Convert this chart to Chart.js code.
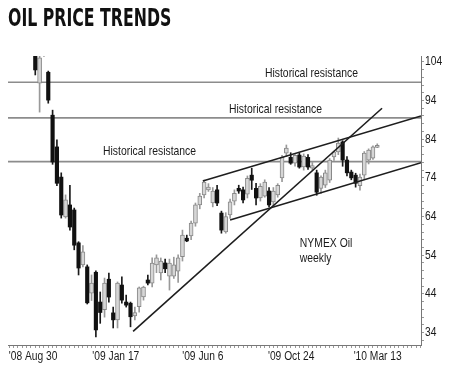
<!DOCTYPE html>
<html lang="en">
<head>
<meta charset="UTF-8" />
<title>Oil price trends</title>
<script src="https://cdn.jsdelivr.net/npm/chart.js"></script>
<style>
  html, body { margin: 0; padding: 0; background: #fff; }
  #wrap { width: 450px; height: 368px; }
</style>
</head>
<body>
<div id="wrap"><canvas id="oil-chart"></canvas></div>
<script>
// weekly NYMEX candles, index 0 = first week shown
const opens  = [107.0, 98.5, 106.2, 101.3, 90.2, 82.0, 74.2, 63.9, 67.0, 65.7,
                57.2, 51.5, 51.0, 44.2, 49.6, 41.9, 39.9, 47.8, 39.1, 37.3,
                46.3, 41.9, 41.6, 38.3, 40.7, 43.2, 47.6, 46.8, 51.5, 49.4,
                52.0, 48.6, 48.6, 49.9, 53.6, 58.4, 59.0, 62.3, 67.0, 69.6,
                70.9, 67.5, 70.9, 64.9, 60.0, 64.4, 68.0, 71.3, 70.9, 69.8,
                74.7, 71.3, 68.8, 69.3, 70.6, 67.8, 69.6, 74.0, 80.4, 79.3,
                77.8, 79.9, 76.8, 79.3, 76.5, 75.3, 71.3, 72.1, 73.4, 79.4,
                80.7, 83.3, 78.6, 75.5, 74.7, 72.0, 74.7, 78.6, 79.1, 81.9];
const highs  = [108.5, 106.0, 112.0, 101.6, 91.5, 83.8, 75.3, 69.6, 72.1, 66.2,
                57.5, 56.5, 51.5, 48.9, 50.0, 44.5, 48.1, 49.4, 40.6, 47.1,
                48.4, 43.7, 41.9, 40.6, 45.8, 46.0, 48.9, 53.3, 54.1, 53.3,
                53.0, 53.0, 53.5, 54.1, 60.5, 59.2, 62.8, 67.5, 70.0, 73.4,
                72.5, 71.5, 72.1, 65.4, 65.0, 68.5, 70.9, 72.1, 71.6, 74.5,
                76.5, 72.6, 72.5, 73.5, 71.5, 71.5, 72.5, 79.8, 82.5, 80.5,
                80.0, 80.4, 80.2, 80.0, 78.0, 76.0, 74.5, 76.0, 79.0, 80.9,
                84.3, 83.6, 79.5, 76.0, 75.2, 75.0, 80.8, 81.5, 82.3, 82.8];
const lows   = [100.6, 91.0, 105.4, 93.3, 77.5, 72.0, 63.6, 63.6, 60.5, 55.4,
                48.9, 51.0, 41.4, 42.3, 32.9, 36.4, 38.0, 41.9, 35.2, 35.2,
                41.6, 40.6, 35.5, 37.3, 39.3, 42.4, 46.3, 45.8, 49.5, 47.6,
                49.5, 45.0, 48.0, 47.0, 52.5, 57.5, 58.0, 61.5, 66.0, 68.8,
                70.5, 66.5, 66.8, 59.7, 59.7, 63.5, 67.0, 70.0, 67.5, 68.8,
                71.0, 67.0, 68.0, 69.0, 66.5, 66.8, 69.0, 73.0, 79.5, 77.5,
                77.0, 76.5, 76.0, 76.2, 76.0, 69.5, 70.0, 71.5, 72.8, 78.5,
                80.0, 77.0, 74.5, 73.5, 71.6, 70.8, 73.5, 77.6, 78.8, 81.8];
const closes = [101.9, 105.0, 108.0, 94.1, 78.1, 72.6, 64.4, 68.3, 61.3, 56.6,
                50.7, 54.9, 41.7, 46.8, 34.7, 39.2, 46.8, 43.2, 37.3, 46.8,
                42.4, 41.1, 38.1, 39.2, 45.6, 45.8, 46.8, 52.0, 53.3, 52.5,
                50.5, 52.0, 51.5, 53.3, 59.2, 57.7, 62.3, 67.0, 69.3, 72.9,
                71.6, 70.6, 67.5, 60.5, 64.0, 67.8, 70.0, 70.6, 68.3, 73.9,
                73.4, 68.8, 71.8, 72.9, 67.0, 70.6, 72.1, 79.3, 81.7, 77.8,
                79.8, 76.8, 79.6, 76.8, 77.2, 70.3, 74.2, 75.3, 78.6, 80.7,
                83.0, 78.6, 75.3, 74.0, 72.6, 74.2, 80.4, 81.2, 82.0, 82.4];

// date labels sit at these candle positions
const xTickPos    = [-0.5, 18.6, 38.7, 59.1, 79.1];
const xTickLabels = ["'08 Aug 30", "'09 Jan 17", "'09 Jun 6", "'09 Oct 24", "'10 Mar 13"];
const yLabels     = [34, 44, 54, 64, 74, 84, 94, 104];

// drawn-in levels and trend lines: [start, end] as [week, price]
const resistance = [98.7, 89.5, 78.2];
const trendLines = [
  [[22.6, 34.3], [80.1, 92.0]],
  [[38.7, 73.2], [89.1, 90.0]],
  [[45.0, 63.1], [89.1, 77.9]],
];

const X_MIN = -6.3, X_MAX = 89.1;

const weeks = opens.map((_, i) => i);
const up = weeks.filter(i => closes[i] >= opens[i]);
const down = weeks.filter(i => closes[i] < opens[i]);

const datasets = [];

trendLines.forEach(([a, b]) => {
  datasets.push({
    type: "line",
    data: [{ x: a[0], y: a[1] }, { x: b[0], y: b[1] }],
    borderColor: "#1e1e1e",
    borderWidth: 1.6,
    pointRadius: 0,
    order: 0,
  });
});

datasets.push({
  type: "bar",
  data: down.map(i => ({ x: i, y: [opens[i], closes[i]] })),
  backgroundColor: "#111",
  borderWidth: 0,
  barThickness: 3.5,
  grouped: false,
  clip: 0,
  order: 1,
});
datasets.push({
  type: "bar",
  data: up.map(i => ({ x: i, y: [opens[i], closes[i]] })),
  backgroundColor: "#d6d6d6",
  borderColor: "#888",
  borderWidth: 1,
  borderSkipped: false,
  barThickness: 4,
  grouped: false,
  clip: 0,
  order: 1,
});
datasets.push({
  type: "bar",
  data: weeks.map(i => ({ x: i, y: [lows[i], highs[i]] })),
  backgroundColor: weeks.map(i => (closes[i] >= opens[i] ? "#999" : "#1a1a1a")),
  barThickness: 1,
  grouped: false,
  clip: 0,
  order: 2,
});

resistance.forEach(v => {
  datasets.push({
    type: "line",
    data: [{ x: X_MIN, y: v }, { x: X_MAX, y: v }],
    borderColor: "#8c8c8c",
    borderWidth: 1.6,
    pointRadius: 0,
    order: 3,
  });
});

// no narrow font installed, so squeeze the text horizontally
function narrowText(ctx, text, x, y, align, font, squeeze) {
  ctx.save();
  ctx.translate(x, y);
  ctx.scale(squeeze, 1);
  ctx.font = font;
  ctx.textAlign = align;
  ctx.fillText(text, 0, 0);
  ctx.restore();
}

const texts = {
  id: "texts",
  afterDraw(chart) {
    const { ctx, chartArea, scales: { x, y } } = chart;
    ctx.save();

    ctx.fillStyle = "#111";
    ctx.textBaseline = "alphabetic";
    narrowText(ctx, "OIL PRICE TRENDS", 8, 26, "left", "bold 25px 'DejaVu Sans'", 0.63);

    ctx.textBaseline = "middle";
    ctx.fillStyle = "#1a1a1a";
    const tickFont = "12.5px 'Liberation Sans', sans-serif";
    xTickPos.forEach((v, k) => {
      narrowText(ctx, xTickLabels[k], x.getPixelForValue(v), chartArea.bottom + 12, "center", tickFont, 0.82);
    });
    yLabels.forEach(v => {
      narrowText(ctx, String(v), chartArea.right + 4, y.getPixelForValue(v), "left", tickFont, 0.82);
    });

    const noteFont = "13px 'Liberation Sans', sans-serif";
    narrowText(ctx, "Historical resistance", x.getPixelForValue(63.8), y.getPixelForValue(101.1), "center", noteFont, 0.8);
    narrowText(ctx, "Historical resistance", x.getPixelForValue(55.5), y.getPixelForValue(91.8), "center", noteFont, 0.8);
    narrowText(ctx, "Historical resistance", x.getPixelForValue(26.4), y.getPixelForValue(80.9), "center", noteFont, 0.8);
    narrowText(ctx, "NYMEX Oil", x.getPixelForValue(61.1), y.getPixelForValue(57.1), "left", noteFont, 0.8);
    narrowText(ctx, "weekly", x.getPixelForValue(61.1), y.getPixelForValue(53.3), "left", noteFont, 0.8);
    ctx.restore();
  },
};

new Chart(document.getElementById("oil-chart"), {
  data: { datasets },
  plugins: [texts],
  options: {
    responsive: true,
    maintainAspectRatio: false,
    animation: false,
    events: [],
    layout: { padding: { left: 8, right: 26, top: 56, bottom: 20 } },
    plugins: {
      legend: { display: false },
      tooltip: { enabled: false },
    },
    scales: {
      x: {
        type: "linear",
        min: X_MIN,
        max: X_MAX,
        offset: false,
        border: { display: true, color: "#777", width: 1 },
        grid: { display: true, offset: false, drawOnChartArea: false, tickLength: 3, color: "#999" },
        afterBuildTicks: axis => {
          const vals = [];
          for (let w = -6; w <= 89; w++) vals.push(w);
          axis.ticks = vals.map(v => ({ value: v }));
        },
        ticks: { display: false, autoSkip: false, maxRotation: 0 },
      },
      y: {
        type: "linear",
        position: "right",
        min: 30.8,
        max: 105.5,
        border: { display: true, color: "#777", width: 1 },
        grid: { display: true, drawOnChartArea: false, tickLength: 3, color: "#999" },
        afterBuildTicks: axis => {
          const vals = [];
          for (let v = 32; v <= 104; v += 2) vals.push(v);
          axis.ticks = vals.map(v => ({ value: v }));
        },
        ticks: { display: false },
      },
    },
  },
});
</script>
</body>
</html>
